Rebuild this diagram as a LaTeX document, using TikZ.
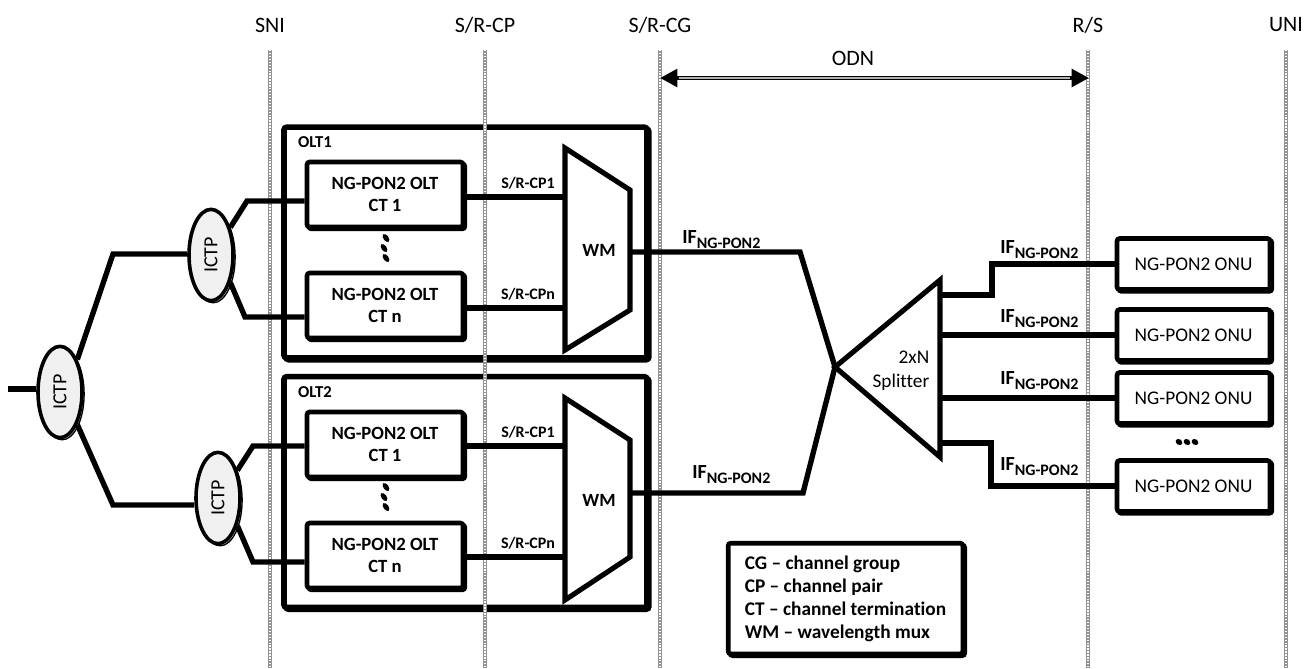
\documentclass[tikz,border=0pt]{standalone}
\usepackage{fontspec}
\setmainfont{Carlito}[Ligatures={TeX,NoCommon}]
\usetikzlibrary{shapes.geometric,arrows.meta}
\newcommand\fsz[2]{\fontsize{#1}{#2}\selectfont}
\newcommand\IFlab{{\bfseries\fsz{15}{18}IF\raisebox{-4pt}{\fsz{12}{14}\selectfont NG-PON2}}}
\begin{document}
\begin{tikzpicture}[x=0.75pt,y=-0.75pt,
  refline/.style={draw=gray!85, line width=3.3pt, postaction={draw=white, line width=1pt, dash pattern=on 1pt off 1.2pt}},
  toplab/.style={font=\fsz{16.5}{20}},
  shadowed/.style={preaction={draw=black, fill=white, transform canvas={xshift=1.4pt,yshift=-1.4pt}}},
  oltbox/.style={draw, line width=4.2pt, fill=white, rounded corners=2pt, inner sep=0pt, minimum width=272.25pt, minimum height=173pt, shadowed},
  ctbox/.style={draw, line width=3.5pt, fill=white, rounded corners=2pt, inner sep=0pt, minimum width=117pt, minimum height=48.75pt, align=center, font=\bfseries\fsz{14}{17}, shadowed},
  onubox/.style={draw, line width=3.5pt, fill=white, rounded corners=2pt, inner sep=0pt, minimum width=114.75pt, minimum height=38.25pt, font=\fsz{14.5}{17}, shadowed},
  legbox/.style={draw, line width=3.5pt, fill=white, rounded corners=2pt, inner sep=0pt, minimum width=176pt, minimum height=83pt, align=left, font=\bfseries\fsz{14.5}{17.25}, shadowed},
  ictp/.style={ellipse, draw, line width=2.7pt, fill=gray!12, minimum width=33pt, minimum height=68.5pt, inner sep=0pt, font=\fsz{15}{17},
     preaction={draw=black, fill=white, line width=1pt, transform canvas={xshift=1.6pt,yshift=-1.6pt}}},
  conn/.style={line width=4pt, line join=miter},
  outline/.style={line width=3.8pt, line join=miter},
  cplab/.style={font=\bfseries\fsz{12}{14}},
  oltlab/.style={font=\bfseries\fsz{12.5}{15}},
  iflab/.style={anchor=base west, inner sep=0pt},
  wmlab/.style={font=\bfseries\fsz{14}{17}},
]
\useasboundingbox (0,0) rectangle (1313,668);

% OLT boxes
\node[oltbox] (olt1) at (465.5,242.5) {};
\node[oltbox] (olt2) at (465.5,492) {};

% reference lines
\node[toplab] (lsni) at (270,25) {SNI};
\node[toplab] (lcp)  at (485,25) {S/R-CP};
\node[toplab] (lcg)  at (660,25) {S/R-CG};
\node[toplab] (lrs)  at (1088,25) {R/S};
\node[toplab] (luni) at (1286,25) {UNI};
\coordinate (sniT) at (270,50);  \coordinate (sniB) at (270,668);
\coordinate (cpT)  at (485,50);  \coordinate (cpB)  at (485,668);
\coordinate (cgT)  at (660,50);  \coordinate (cgB)  at (660,668);
\coordinate (rsT)  at (1088,50); \coordinate (rsB)  at (1088,668);
\coordinate (uniT) at (1286,50); \coordinate (uniB) at (1286,668);
\draw[refline] (sniT) -- (sniB);
\draw[refline] (cpT) -- (cpB);
\draw[refline] (cgT) -- (cgB);
\draw[refline] (rsT) -- (rsB);
\draw[refline] (uniT) -- (uniB);

% ODN arrow
\node[toplab] (odn) at (853,58) {ODN};
\coordinate (odnL) at (660,78);
\coordinate (odnR) at (1089,78);
\draw[line width=3.4pt, {Triangle[length=13pt,width=13pt]}-{Triangle[length=13pt,width=13pt]}] (odnL) -- (odnR);
\draw[gray!60, line width=1.1pt, shorten <=14pt, shorten >=14pt] (odnL) -- (odnR);

% labels OLT
\node[oltlab] (o1lab) at (315,142) {OLT1};
\node[oltlab] (o2lab) at (315,392) {OLT2};

% CT boxes
\node[ctbox] (ct1a) at (385,194.5) {NG-PON2 OLT\\CT 1};
\node[ctbox] (ctna) at (385,305.5) {NG-PON2 OLT\\CT n};
\node[ctbox] (ct1b) at (385,444.5) {NG-PON2 OLT\\CT 1};
\node[ctbox] (ctnb) at (385,555.5) {NG-PON2 OLT\\CT n};

% ONU boxes
\node[onubox] (onu1) at (1193.5,264) {NG-PON2 ONU};
\node[onubox] (onu2) at (1193.5,335) {NG-PON2 ONU};
\node[onubox] (onu3) at (1193.5,398) {NG-PON2 ONU};
\node[onubox] (onu4) at (1193.5,486) {NG-PON2 ONU};

% legend
\node[legbox] (legend) at (845.5,598.5) {CG – channel group\\CP – channel pair\\CT – channel termination\\WM – wavelength mux};

% ICTP
\node[ictp] (ictp0) at (60,392) {\rotatebox{90}{ICTP}};
\node[ictp] (ictp1) at (211,255) {\rotatebox{90}{ICTP}};
\node[ictp] (ictp2) at (218,498) {\rotatebox{90}{ICTP}};

% connectors ICTP
\coordinate (stub) at (8,389);
\draw[conn] (stub) -- (stub -| ictp0.west);
\coordinate (k1) at (113,254);
\coordinate (k2) at (113,505);
\draw[conn] (ictp0.62) -- (k1) -- (k1 -| ictp1.west);
\draw[conn] (ictp0.-62) -- (k2) -- (k2 -| ictp2.west);
\coordinate (k3) at (247,201);
\coordinate (k4) at (245,317);
\coordinate (k5) at (253,446);
\coordinate (k6) at (253,562);
\draw[conn] (ictp1.55) -- (k3) -- (k3 -| ct1a.west);
\draw[conn] (ictp1.-55) -- (k4) -- (k4 -| ctna.west);
\draw[conn] (ictp2.55) -- (k5) -- (k5 -| ct1b.west);
\draw[conn] (ictp2.-55) -- (k6) -- (k6 -| ctnb.west);

% WM trapezoids
\coordinate (wa1) at (565,148); \coordinate (wa2) at (630,190);
\coordinate (wa3) at (630,310); \coordinate (wa4) at (565,350);
\coordinate (wb1) at (565,398); \coordinate (wb2) at (630,440);
\coordinate (wb3) at (630,557); \coordinate (wb4) at (565,600);
\draw[outline] (wa1) -- (wa2) -- (wa3) -- (wa4) -- cycle;
\draw[outline] (wb1) -- (wb2) -- (wb3) -- (wb4) -- cycle;
\node[wmlab] (wm1) at (599,250) {WM};
\node[wmlab] (wm2) at (599,500) {WM};
\coordinate (wa_i1) at (565,197); \coordinate (wa_in) at (565,308);
\coordinate (wb_i1) at (565,446); \coordinate (wb_in) at (565,557);
\coordinate (wa_o) at (630,252);  \coordinate (wb_o) at (630,493);

\draw[conn] (wa_i1 -| ct1a.east) -- (wa_i1);
\draw[conn] (wa_in -| ctna.east) -- (wa_in);
\draw[conn] (wb_i1 -| ct1b.east) -- (wb_i1);
\draw[conn] (wb_in -| ctnb.east) -- (wb_in);
\node[cplab] (cp1a) at (528,183) {S/R-CP1};
\node[cplab] (cpna) at (528,294) {S/R-CPn};
\node[cplab] (cp1b) at (528,432) {S/R-CP1};
\node[cplab] (cpnb) at (528,543) {S/R-CPn};

% splitter
\coordinate (apex) at (835,367);
\coordinate (st) at (940,280);
\coordinate (sb) at (940,457);
\draw[outline] (apex) -- (st) -- (sb) -- cycle;
\node[align=right, anchor=east, font=\fsz{14.5}{18}] (spl) at (934,371) {2xN\\Splitter};

\coordinate (m1) at (800,252);
\coordinate (m2) at (803,493);
\draw[conn] (wa_o) -- (m1) -- (apex);
\draw[conn] (wb_o) -- (m2) -- (apex);

\coordinate (s1) at (940,295); \coordinate (j1) at (992,295); \coordinate (j1b) at (992,264);
\coordinate (s2) at (940,335);
\coordinate (s3) at (940,398);
\coordinate (s4) at (940,443); \coordinate (j4) at (991,443); \coordinate (j4b) at (991,486);
\draw[conn] (s1) -- (j1) -- (j1b) -- (onu1.west);
\draw[conn] (s2) -- (onu2.west);
\draw[conn] (s3) -- (onu3.west);
\draw[conn] (s4) -- (j4) -- (j4b) -- (onu4.west);

% IF labels
\node[iflab] (if1) at (682,243) {\IFlab};
\node[iflab] (if2) at (692,478) {\IFlab};
\node[iflab] (if3) at (1000,253) {\IFlab};
\node[iflab] (if4) at (1000,322) {\IFlab};
\node[iflab] (if5) at (1000,384) {\IFlab};
\node[iflab] (if6) at (1000,470) {\IFlab};

% dots
\fill (386,238) ellipse [x radius=2.6, y radius=4.6, rotate=35];
\fill (384,248) ellipse [x radius=2.6, y radius=4.6, rotate=35];
\fill (386,258) ellipse [x radius=2.6, y radius=4.6, rotate=35];
\fill (386,487) ellipse [x radius=2.6, y radius=4.6, rotate=35];
\fill (384,497) ellipse [x radius=2.6, y radius=4.6, rotate=35];
\fill (386,507) ellipse [x radius=2.6, y radius=4.6, rotate=35];
\fill (1179,442) ellipse [x radius=3.6, y radius=2.8, rotate=-30];
\fill (1187,442) ellipse [x radius=3.6, y radius=2.8, rotate=-30];
\fill (1195,442) ellipse [x radius=3.6, y radius=2.8, rotate=-30];
\end{tikzpicture}
\end{document}
